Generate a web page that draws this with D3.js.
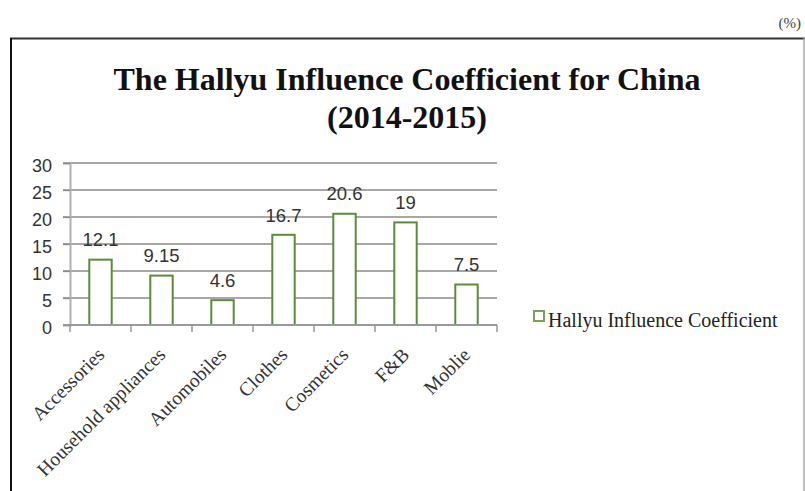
<!DOCTYPE html>
<html><head><meta charset="utf-8">
<script src="https://cdn.jsdelivr.net/npm/d3@7"></script>
<style>html,body{margin:0;padding:0;background:#fff;overflow:hidden}</style>
</head><body>
<script>
const categories = ["Accessories","Household appliances","Automobiles","Clothes","Cosmetics","F&B","Moblie"];
const values = [12.1, 9.15, 4.6, 16.7, 20.6, 19, 7.5];
const valueLabels = ["12.1","9.15","4.6","16.7","20.6","19","7.5"];
const yTicks = [0,5,10,15,20,25,30];
const seriesName = "Hallyu Influence Coefficient";
const titleLines = ["The Hallyu Influence Coefficient for China","(2014-2015)"];
const unitLabel = "(%)";

const W = 805, H = 491;
const svg = d3.select("body").append("svg").attr("width", W).attr("height", H);

const green = "#5b8c3a";
const serif = "'Liberation Serif','Times New Roman',serif";
const sans = "'Liberation Sans',Arial,sans-serif";

// frame
svg.append("text").attr("x", 801).attr("y", 28).attr("text-anchor","end")
  .attr("font-family", serif).attr("font-size", 15).attr("fill","#444").text(unitLabel);
svg.append("line").attr("x1",10).attr("x2",W).attr("y1",38.5).attr("y2",38.5).attr("stroke","#333").attr("stroke-width",2);
svg.append("line").attr("x1",11).attr("x2",11).attr("y1",38).attr("y2",H).attr("stroke","#111").attr("stroke-width",2);
svg.append("line").attr("x1",804).attr("x2",804).attr("y1",38).attr("y2",H).attr("stroke","#aaa").attr("stroke-width",1.5);

// title
const title = svg.append("g");
title.selectAll("text").data(titleLines).join("text")
  .attr("x", 407).attr("y", (d,i) => i === 0 ? 90 : 128)
  .attr("text-anchor","middle").attr("font-family", serif).attr("font-weight","bold")
  .attr("font-size", 32).attr("fill","#111").text(d => d);

const x = d3.scaleBand().domain(categories).range([70, 497]).paddingInner(0).paddingOuter(0);
const y = d3.scaleLinear().domain([0,30]).range([325, 163]);

// gridlines
svg.append("g").selectAll("line").data(yTicks.filter(t => t > 0)).join("line")
  .attr("x1", 63).attr("x2", 497).attr("y1", d => y(d)).attr("y2", d => y(d))
  .attr("stroke","#8a8a8a").attr("stroke-width",1.3);

// y axis
const yAxis = svg.append("g").attr("transform","translate(70,0)")
  .call(d3.axisLeft(y).tickValues(yTicks).tickSize(7).tickPadding(11));
yAxis.select(".domain").attr("stroke","#b0b0b0").attr("stroke-width",2);
yAxis.selectAll(".tick line").attr("stroke","#8a8a8a").attr("stroke-width",1.3);
yAxis.selectAll(".tick text").attr("font-family", sans).attr("font-size", 18).attr("fill","#333").attr("dy","0.45em");

// bars
svg.append("g").selectAll("rect").data(values).join("rect")
  .attr("x", (d,i) => x(categories[i]) + x.bandwidth()*0.3 + 1)
  .attr("width", x.bandwidth()*0.4 - 2)
  .attr("y", d => y(d)).attr("height", d => y(0) - y(d))
  .attr("fill","#fff").attr("stroke", green).attr("stroke-width", 2);

// x axis
const xAxis = svg.append("g").attr("transform","translate(0,325)");
xAxis.append("line").attr("x1",63).attr("x2",497).attr("y1",0).attr("y2",0).attr("stroke","#999").attr("stroke-width",2);
const bounds = categories.map(c => x(c)).concat([x(categories[categories.length-1]) + x.bandwidth()]);
xAxis.selectAll("line.tk").data(bounds).join("line").attr("class","tk")
  .attr("x1", d => d).attr("x2", d => d).attr("y1", 0).attr("y2", 7)
  .attr("stroke","#999").attr("stroke-width",1.5);

// category labels
svg.append("g").selectAll("text").data(categories).join("text")
  .attr("transform", d => `translate(${x(d) + x.bandwidth()/2 + 5},356) rotate(-45)`)
  .attr("text-anchor","end").attr("font-family", serif).attr("font-size", 19.5).attr("fill","#333")
  .text(d => d);

// data labels
svg.append("g").selectAll("text").data(values).join("text")
  .attr("x", (d,i) => x(categories[i]) + x.bandwidth()/2)
  .attr("y", d => y(d) - 13.3)
  .attr("text-anchor","middle").attr("font-family", sans).attr("font-size", 18.5).attr("fill","#333")
  .text((d,i) => valueLabels[i]);

// legend
const lg = svg.append("g");
lg.append("rect").attr("x",534).attr("y",311).attr("width",10).attr("height",10)
  .attr("fill","#fff").attr("stroke","#7aa356").attr("stroke-width",2);
lg.append("text").attr("x",548).attr("y",326.5).attr("font-family", serif).attr("font-size", 20)
  .attr("fill","#222").text(seriesName);
</script>
</body></html>
